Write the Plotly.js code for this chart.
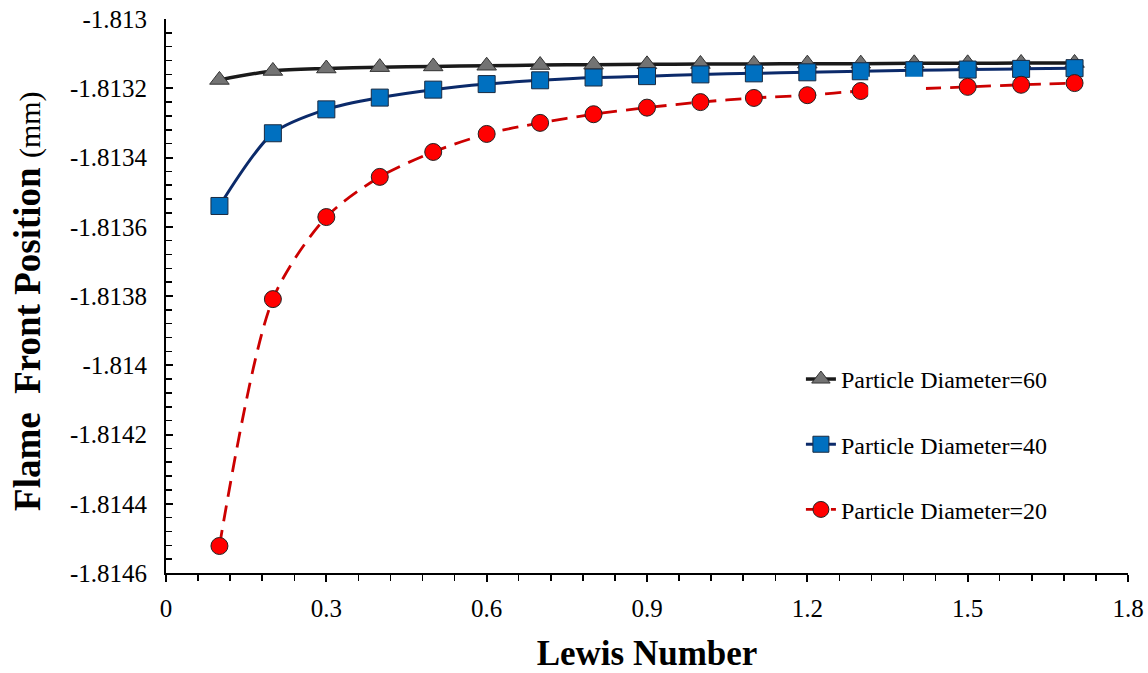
<!DOCTYPE html>
<html>
<head>
<meta charset="utf-8">
<script src="https://cdn.plot.ly/plotly-3.0.1.min.js"></script>
<style>html,body{margin:0;padding:0;background:#fff;}#chart{width:1148px;height:673px;}</style>
</head>
<body>
<div id="chart"></div>
<script>
const lewis = [0.1,0.2,0.3,0.4,0.5,0.6,0.7,0.8,0.9,1.0,1.1,1.2,1.3,1.4,1.5,1.6,1.7];
const d60 = [-1.813176,-1.813150,-1.813143,-1.813139,-1.813137,-1.813135,-1.813133,-1.813132,-1.813131,-1.813130,-1.813130,-1.813129,-1.813129,-1.813128,-1.813128,-1.813127,-1.813127];
const d40 = [-1.813540,-1.813330,-1.813261,-1.813227,-1.813204,-1.813188,-1.813177,-1.813169,-1.813165,-1.813160,-1.813157,-1.813154,-1.813151,-1.813148,-1.813146,-1.813144,-1.813142];
const d20 = [-1.814522,-1.813809,-1.813572,-1.813456,-1.813384,-1.813332,-1.813300,-1.813275,-1.813256,-1.813240,-1.813228,-1.813220,-1.813208,-1.813202,-1.813196,-1.813190,-1.813185];
const names = ['Particle Diameter=60','Particle Diameter=40','Particle Diameter=20'];
const yTickVals = [-1.813,-1.8132,-1.8134,-1.8136,-1.8138,-1.814,-1.8142,-1.8144,-1.8146];
const yTickText = ['-1.813','-1.8132','-1.8134','-1.8136','-1.8138','-1.814','-1.8142','-1.8144','-1.8146'];
const xTickVals = [0,0.3,0.6,0.9,1.2,1.5,1.8];
const xTickText = ['0','0.3','0.6','0.9','1.2','1.5','1.8'];
const xTitle = 'Lewis Number';
const yTitleMain = 'Flame&nbsp;&nbsp;Front Position';
const yTitleUnit = '(mm)';

const FONT = '"Times New Roman", "Liberation Serif", Times, serif';

const traces = [
  {x: lewis, y: d60, name: names[0], mode:'lines+markers', legendgroup:'a',
   line:{color:'#1a1a1a', width:3.5, shape:'spline', smoothing:0.8},
   marker:{symbol:'triangle-up', size:17, color:'#737373', line:{color:'#333', width:1}}},
  {x: lewis, y: d40, name: names[1], mode:'lines+markers', legendgroup:'b',
   line:{color:'#0b2a6a', width:3, shape:'spline', smoothing:0.8},
   marker:{symbol:'square', size:17, color:'#0070c0', line:{color:'#1a2a40', width:1}}},
  {x: lewis, y: d20, name: names[2], mode:'lines+markers', legendgroup:'c',
   line:{color:'#cc0000', width:2.8, shape:'spline', smoothing:0.8, dash:'16px,9px'},
   marker:{symbol:'circle', size:17, color:'#ff0000', line:{color:'#222', width:1}}}
];

const layout = {
  width:1148, height:673,
  margin:{l:166, r:20, t:19, b:100},
  paper_bgcolor:'#fff', plot_bgcolor:'#fff',
  font:{family:FONT, color:'#000', size:22},
  showlegend:true,
  legend:{x:0.66, y:0.39, xanchor:'left', yanchor:'top', bgcolor:'rgba(0,0,0,0)',
          font:{family:FONT, size:24, color:'#000'}, tracegroupgap:31, traceorder:'grouped', itemwidth:30},
  xaxis:{range:[0,1.8], showgrid:false, zeroline:false, showline:true, linecolor:'#000', linewidth:2,
         ticks:'outside', ticklen:7, tickwidth:2, tickcolor:'#000',
         tickvals:xTickVals, ticktext:xTickText, ticklabelstandoff:5,
         tickfont:{family:FONT, size:25, color:'#000'},
         minor:{dtick:0.06, ticks:'outside', ticklen:6, tickwidth:1.5, tickcolor:'#000', showgrid:false},
         title:{text:'<b>'+xTitle+'</b>', font:{family:FONT, size:35, color:'#000'}, standoff:20}},
  yaxis:{range:[-1.8146,-1.813], showgrid:false, zeroline:false, showline:true, linecolor:'#000', linewidth:2,
         ticks:'inside', ticklen:7, tickwidth:2, tickcolor:'#000',
         tickvals:yTickVals, ticktext:yTickText, ticklabelstandoff:12,
         tickfont:{family:FONT, size:25, color:'#000'},
         minor:{dtick:0.00004, ticks:'inside', ticklen:6, tickwidth:1.5, tickcolor:'#000', showgrid:false}},
  annotations:[
    {xref:'paper', yref:'paper', x:-0.1435, y:0.491, xanchor:'center', yanchor:'middle', textangle:-90, showarrow:false,
     text:'<b>'+yTitleMain+'</b> <span style="font-size:30px">'+yTitleUnit+'</span>',
     font:{family:FONT, size:37, color:'#000'}}
  ],
  shapes:[
    {type:'rect', xref:'x', yref:'y', x0:1.314, x1:1.422, y0:-1.813167, y1:-1.81324,
     fillcolor:'#fff', line:{width:0}, layer:'above'}
  ]
};

Plotly.newPlot('chart', traces, layout, {displayModeBar:false, staticPlot:true});
</script>
</body>
</html>
